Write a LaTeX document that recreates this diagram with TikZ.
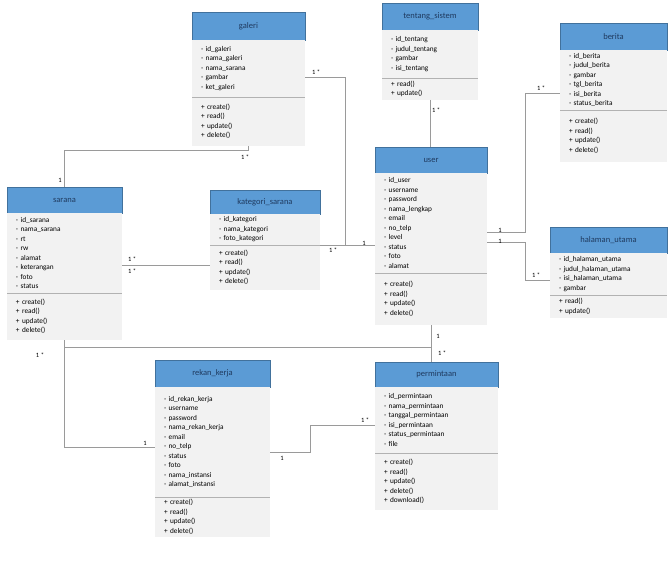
\documentclass[tikz,border=0pt]{standalone}
\usepackage{fontspec}
\setmainfont{Carlito}
\usetikzlibrary{positioning}
\definecolor{headblue}{HTML}{5B9BD5}
\definecolor{headline}{HTML}{41719C}
\definecolor{bodygray}{HTML}{F2F2F2}
\definecolor{titletext}{HTML}{1F3A5F}
\definecolor{linkgray}{HTML}{9A9A9A}
\tikzset{clshead/.style={draw=headline,fill=headblue,anchor=north west,inner sep=0pt,outer sep=0pt,font=\fontsize{8.5}{9}\selectfont,text=titletext},
clsbody/.style={fill=bodygray,inner xsep=9pt,inner ysep=1pt,outer sep=0pt,align=left,font=\fontsize{7.3}{9.5}\selectfont},
divline/.style={draw=gray!60,line width=.6pt},
conn/.style={draw=linkgray,line width=.6pt},
mult/.style={font=\fontsize{6.5}{7}\selectfont,inner sep=1pt}}

\begin{document}
\begin{tikzpicture}[x=1pt,y=-1pt]
\fill[white] (0,0) rectangle (669,572);
\useasboundingbox (0,0) rectangle (669,572);
% galeri
\node[clshead,minimum width=113pt,minimum height=28pt] (galeri) at (192,12) {galeri};
\node[clsbody,text width=95pt,minimum height=57pt,below=0pt of galeri] (galeri-a) {- id\_galeri\\- nama\_galeri\\- nama\_sarana\\- gambar\\- ket\_galeri};
\node[clsbody,text width=95pt,minimum height=49pt,below=0pt of galeri-a] (galeri-m) {+ create()\\+ read()\\+ update()\\+ delete()};
\draw[divline] (galeri-m.north west) -- (galeri-m.north east);
% tentang_sistem
\node[clshead,minimum width=96pt,minimum height=27pt] (tentang) at (382,3) {tentang\_sistem};
\node[clsbody,text width=78pt,minimum height=48pt,below=0pt of tentang] (tentang-a) {- id\_tentang\\- judul\_tentang\\- gambar\\- isi\_tentang};
\node[clsbody,text width=78pt,minimum height=22pt,below=0pt of tentang-a] (tentang-m) {+ read()\\+ update()};
\draw[divline] (tentang-m.north west) -- (tentang-m.north east);
% berita
\node[clshead,minimum width=107pt,minimum height=27pt] (berita) at (560,23) {berita};
\node[clsbody,text width=89pt,minimum height=60pt,below=0pt of berita] (berita-a) {- id\_berita\\- judul\_berita\\- gambar\\- tgl\_berita\\- isi\_berita\\- status\_berita};
\node[clsbody,text width=89pt,minimum height=52pt,below=0pt of berita-a] (berita-m) {+ create()\\+ read()\\+ update()\\+ delete()};
\draw[divline] (berita-m.north west) -- (berita-m.north east);
% sarana
\node[clshead,minimum width=115pt,minimum height=26pt] (sarana) at (7,187) {sarana};
\node[clsbody,text width=97pt,minimum height=80pt,below=0pt of sarana] (sarana-a) {- id\_sarana\\- nama\_sarana\\- rt\\- rw\\- alamat\\- keterangan\\- foto\\- status};
\node[clsbody,text width=97pt,minimum height=47pt,below=0pt of sarana-a] (sarana-m) {+ create()\\+ read()\\+ update()\\+ delete()};
\draw[divline] (sarana-m.north west) -- (sarana-m.north east);
% kategori_sarana
\node[clshead,minimum width=110pt,minimum height=24pt] (kategori) at (210,190) {kategori\_sarana};
\node[clsbody,text width=92pt,minimum height=31pt,below=0pt of kategori] (kategori-a) {- id\_kategori\\- nama\_kategori\\- foto\_kategori};
\node[clsbody,text width=92pt,minimum height=45pt,below=0pt of kategori-a] (kategori-m) {+ create()\\+ read()\\+ update()\\+ delete()};
\draw[divline] (kategori-m.north west) -- (kategori-m.north east);
% user
\node[clshead,minimum width=112pt,minimum height=26pt] (user) at (375,147) {user};
\node[clsbody,text width=94pt,minimum height=100pt,below=0pt of user] (user-a) {- id\_user\\- username\\- password\\- nama\_lengkap\\- email\\- no\_telp\\- level\\- status\\- foto\\- alamat};
\node[clsbody,text width=94pt,minimum height=52pt,below=0pt of user-a] (user-m) {+ create()\\+ read()\\+ update()\\+ delete()};
\draw[divline] (user-m.north west) -- (user-m.north east);
% halaman_utama
\node[clshead,minimum width=117pt,minimum height=26pt] (halaman) at (550,227) {halaman\_utama};
\node[clsbody,text width=99pt,minimum height=42pt,below=0pt of halaman] (halaman-a) {- id\_halaman\_utama\\- judul\_halaman\_utama\\- isi\_halaman\_utama\\- gambar};
\node[clsbody,text width=99pt,minimum height=23pt,below=0pt of halaman-a] (halaman-m) {+ read()\\+ update()};
\draw[divline] (halaman-m.north west) -- (halaman-m.north east);
% rekan_kerja
\node[clshead,minimum width=115pt,minimum height=27pt] (rekan) at (155,360) {rekan\_kerja};
\node[clsbody,text width=97pt,minimum height=110pt,below=0pt of rekan] (rekan-a) {- id\_rekan\_kerja\\- username\\- password\\- nama\_rekan\_kerja\\- email\\- no\_telp\\- status\\- foto\\- nama\_instansi\\- alamat\_instansi};
\node[clsbody,text width=97pt,minimum height=40pt,below=0pt of rekan-a] (rekan-m) {+ create()\\+ read()\\+ update()\\+ delete()};
\draw[divline] (rekan-m.north west) -- (rekan-m.north east);
% permintaan
\node[clshead,minimum width=123pt,minimum height=25pt] (permintaan) at (375,362) {permintaan};
\node[clsbody,text width=105pt,minimum height=66pt,below=0pt of permintaan] (permintaan-a) {- id\_permintaan\\- nama\_permintaan\\- tanggal\_permintaan\\- isi\_permintaan\\- status\_permintaan\\- file};
\node[clsbody,text width=105pt,minimum height=57pt,below=0pt of permintaan-a] (permintaan-m) {+ create()\\+ read()\\+ update()\\+ delete()\\+ download()};
\draw[divline] (permintaan-m.north west) -- (permintaan-m.north east);

% connectors
\coordinate (gjoin) at (345,245);
\draw[conn] (galeri-a.east |- 0,77) -| (gjoin);
\draw[conn] (kategori-m.east |- gjoin) -- (user-a.west |- gjoin);
\draw[conn] (tentang-m.south) -- (tentang-m.south |- user.north);
\draw[conn] (user-a.east |- 0,232) -| (525,93) -- (berita-a.west |- 0,93);
\draw[conn] (user-a.east |- 0,242) -| (525,280) -- (halaman-a.west |- 0,280);
\draw[conn] (sarana.north) |- (galeri-m.south |- 0,150) -- (galeri-m.south);
\draw[conn] (sarana-a.east |- 0,265) -- (kategori-m.west |- 0,265);
\draw[conn] (sarana-m.south) |- (rekan-a.west |- 0,447);
\draw[conn] (user-m.south) -- (user-m.south |- permintaan.north);
\draw[conn] (sarana-m.south |- 0,347) -- (user-m.south |- 0,347);
\draw[conn] (rekan-a.east |- 0,452) -| (310,425) -- (permintaan-a.west |- 0,425);

% multiplicities
\node[mult] (m1) at (316,72) {1 *};
\node[mult] (m2) at (333,250) {1 *};
\node[mult] (m3) at (364,243) {1};
\node[mult] (m4) at (436,110) {1 *};
\node[mult] (m5) at (541,88) {1 *};
\node[mult] (m6) at (500,230) {1};
\node[mult] (m7) at (500,241) {1};
\node[mult] (m8) at (536,275) {1 *};
\node[mult] (m9) at (60,180) {1};
\node[mult] (m10) at (245,157) {1 *};
\node[mult] (m11) at (132,259) {1 *};
\node[mult] (m12) at (132,271) {1 *};
\node[mult] (m13) at (40,355) {1 *};
\node[mult] (m14) at (145,443) {1};
\node[mult] (m15) at (438,336) {1};
\node[mult] (m16) at (442,353) {1 *};
\node[mult] (m17) at (282,458) {1};
\node[mult] (m18) at (365,420) {1 *};
\end{tikzpicture}
\end{document}
